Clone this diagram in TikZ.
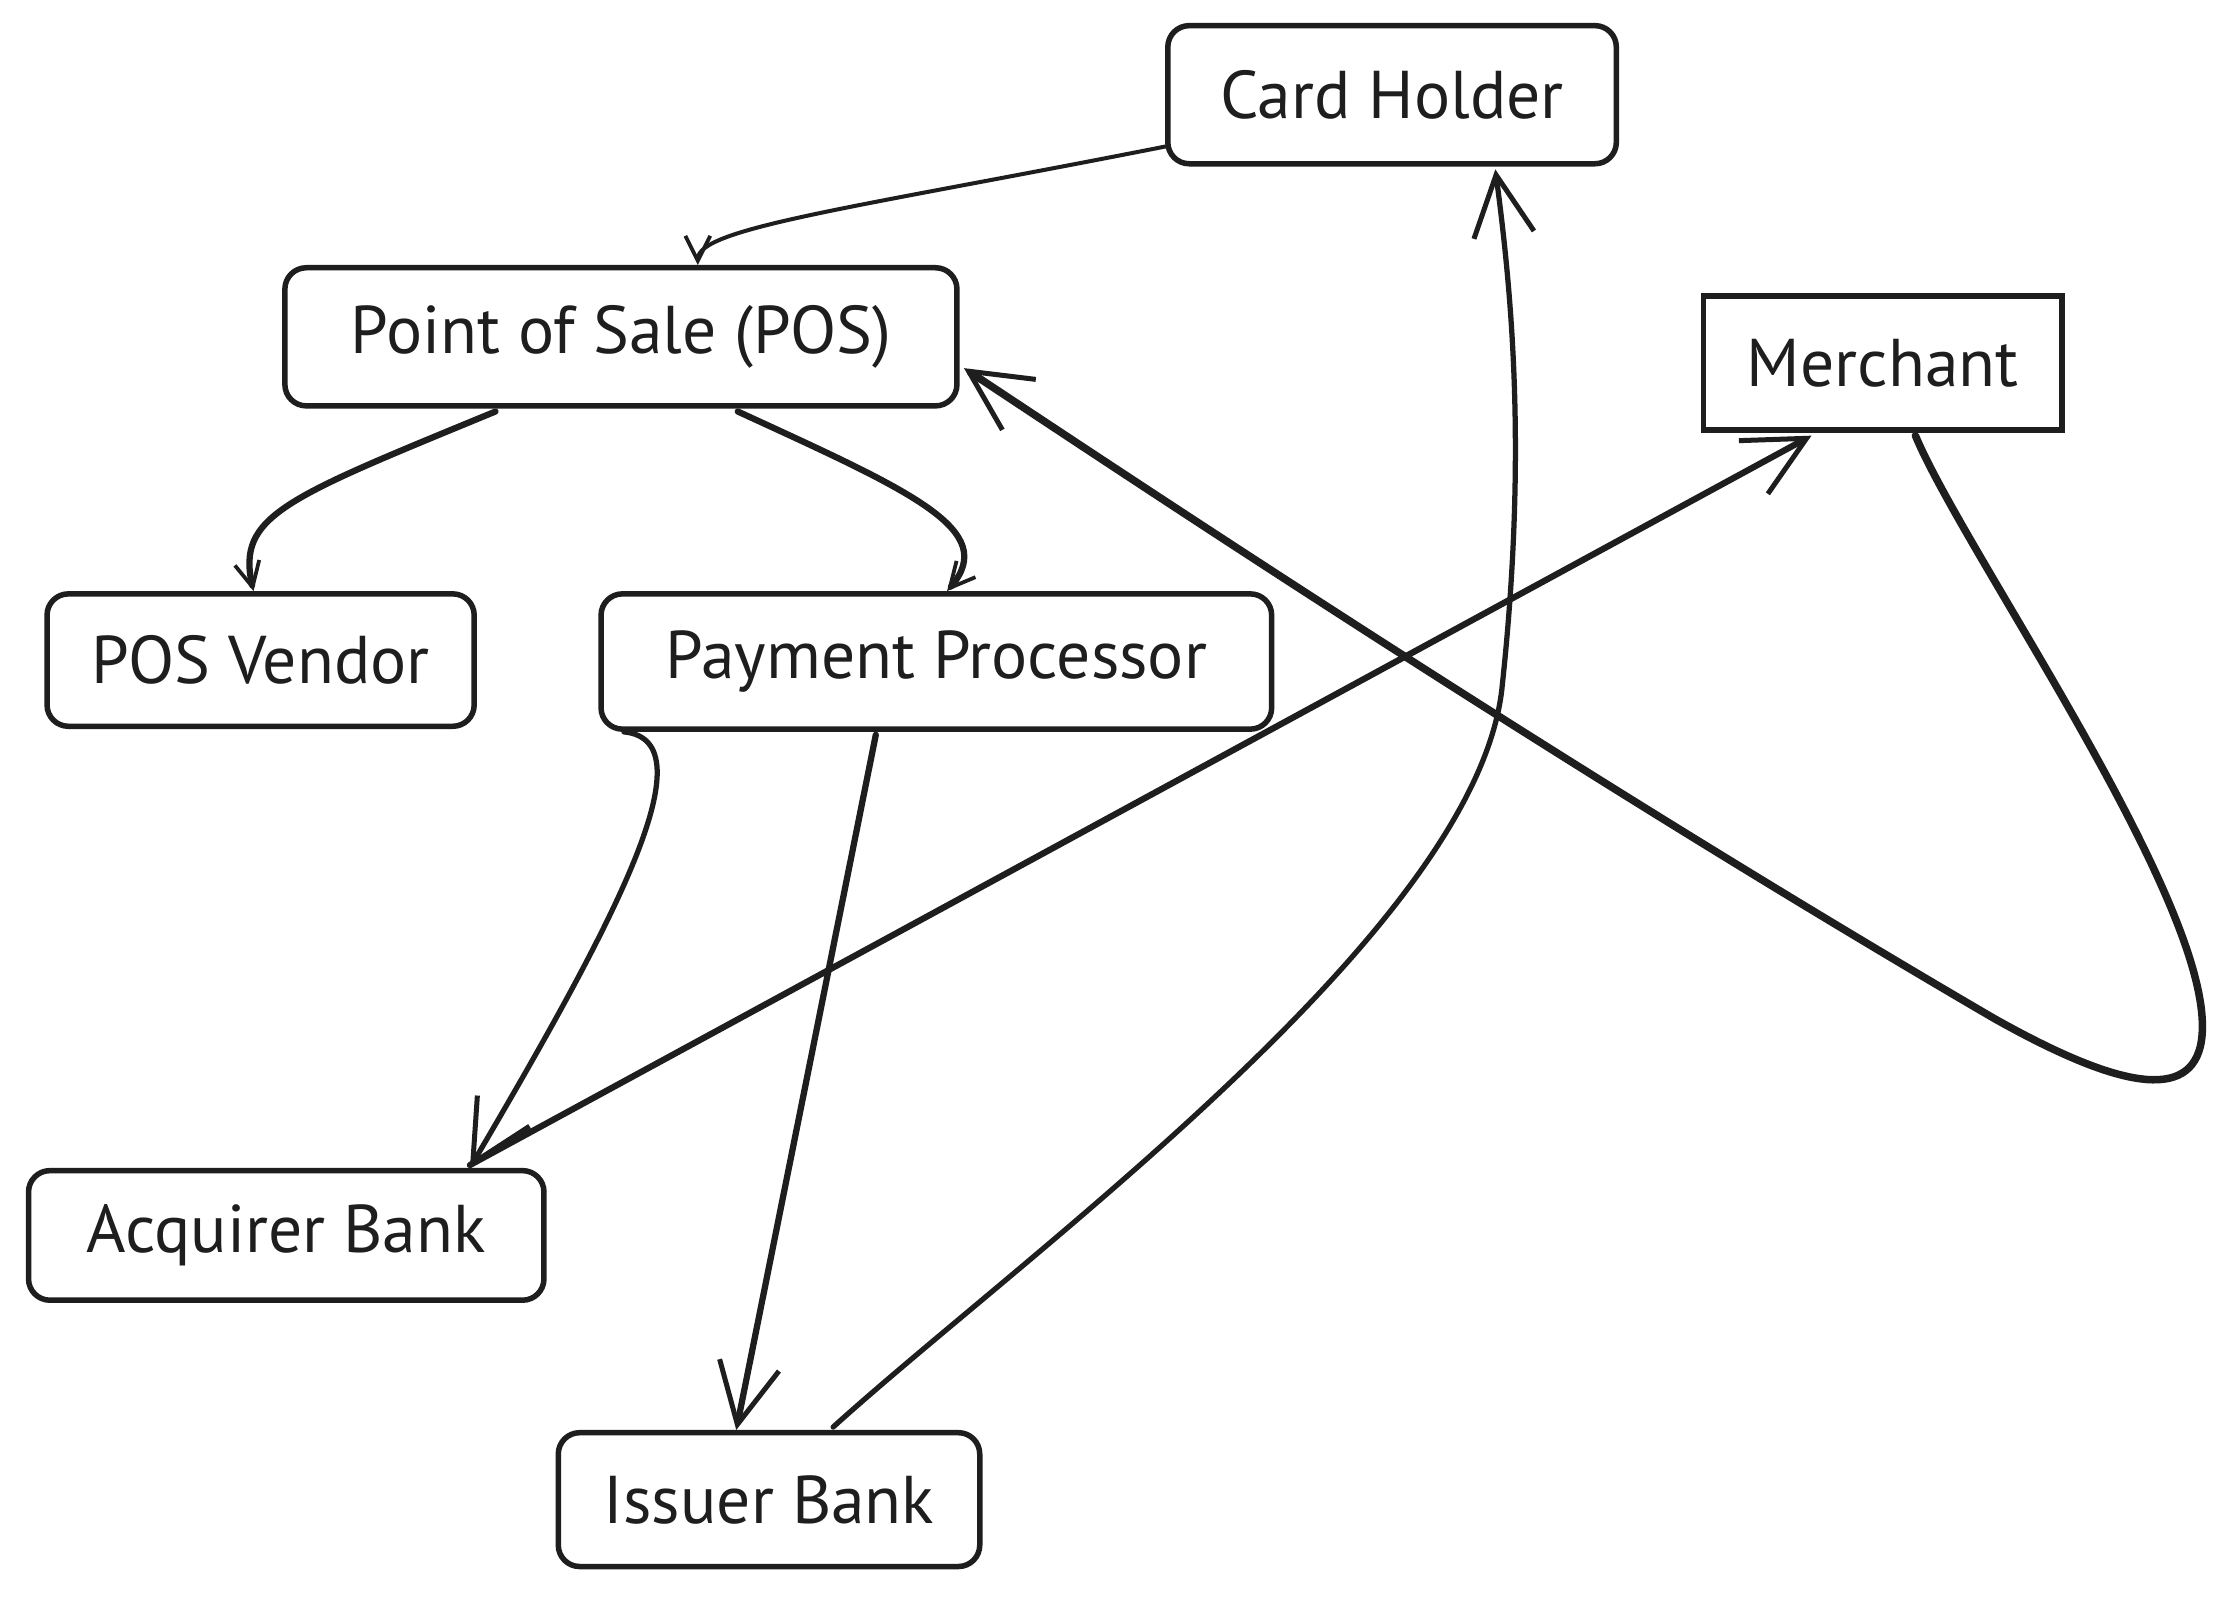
\documentclass[tikz,border=0pt]{standalone}
\usepackage{fontspec}
\setmainfont{PT Sans}
\usetikzlibrary{arrows.meta,calc}
\definecolor{ink}{HTML}{1E1E1E}
\tikzset{
  box/.style={draw=ink, line width=2.2pt, rounded corners=0.3cm, text=ink,
    font=\fontsize{27}{30}\selectfont, inner sep=0pt},
  sharpbox/.style={box, rounded corners=0pt},
  conn/.style={draw=ink, line width=2.1pt, line cap=round, line join=round},
  bigtip/.style={-{Straight Barb[length=0.85cm, width=0.85cm, line width=2pt]}},
  smalltip/.style={-{Straight Barb[length=0.35cm, width=0.35cm, line width=1.5pt]}}
}
\begin{document}
\begin{tikzpicture}[x=0.02cm, y=-0.02cm]
\useasboundingbox (0,0) rectangle (1568,1122);
\fill[white] (0,0) rectangle (1568,1122);

\node[box, minimum width=6.3cm, minimum height=1.94cm] (ch) at (977.5,66.5) {Card Holder};
\node[box, minimum width=9.44cm, minimum height=1.94cm] (pos) at (436,236.5) {Point of Sale (POS)};
\node[sharpbox, minimum width=5.04cm, minimum height=1.88cm] (mer) at (1322,255) {Merchant};
\node[box, minimum width=6cm, minimum height=1.86cm] (pv) at (183,463.5) {POS Vendor};
\node[box, minimum width=9.42cm, minimum height=1.9cm] (pp) at (657.5,464.5) {Payment Processor};
\node[box, minimum width=7.24cm, minimum height=1.82cm] (ab) at (201,867.5) {Acquirer Bank};
\node[box, minimum width=5.92cm, minimum height=1.88cm] (ib) at (540,1053) {Issuer Bank};

% Card Holder -> POS
\draw[conn, line width=1.6pt, smalltip] ($(ch.south west)+(0,-14)$)
  .. controls (600,146) and (490,160) .. ($(pos.north)+(54,0)$);
% POS -> POS Vendor
\draw[conn, line width=2.5pt, smalltip] ($(pos.south)+(-88,2)$)
  .. controls (200,350) and (166,362) .. ($(pv.north)+(-5,0)$);
% POS -> Payment Processor
\draw[conn, line width=2.5pt, smalltip] ($(pos.south)+(82,2)$)
  .. controls (640,345) and (702,372) .. ($(pp.north)+(7.5,0)$);
% Payment Processor -> Acquirer Bank
\draw[conn, bigtip] ($(pp.south west)+(18,0)$)
  .. controls (500,520) and (430,650) .. ($(ab.north)+(129,0)$);
% Payment Processor -> Issuer Bank
\draw[conn, line width=2.5pt, bigtip] ($(pp.south)+(-42.5,2)$) -- ($(ib.north)+(-23,0)$);
% Acquirer Bank -> Merchant
\draw[conn, line width=2.5pt, bigtip] ($(ab.north)+(129,-2)$) -- ($(mer.south)+(-50,2)$);
% Issuer Bank -> Card Holder
\draw[conn, bigtip] ($(ib.north)+(45,-2)$)
  .. controls (720,880) and (1040,650) .. (1055,480)
  .. controls (1072,320) and (1062,210) .. ($(ch.south)+(72.5,2)$);
% Merchant -> POS
\draw[conn, line width=3pt, bigtip] ($(mer.south)+(23,2)$)
  .. controls (1380,390) and (1565,650) .. (1545,735)
  .. controls (1535,775) and (1480,760) .. (1400,715)
  .. controls (1100,540) and (800,340) .. ($(pos.east)+(3,22)$);
\end{tikzpicture}
\end{document}
